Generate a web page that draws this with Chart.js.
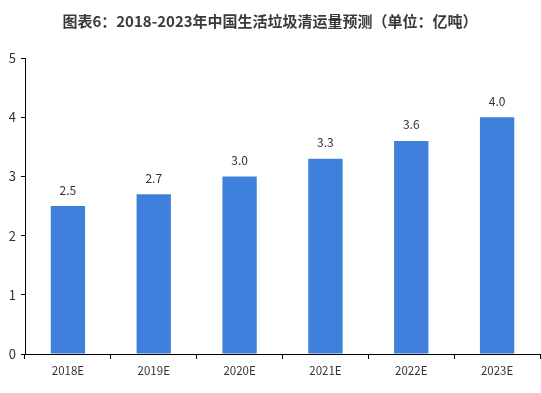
<!DOCTYPE html>
<html>
<head>
<meta charset="utf-8">
<script src="https://cdn.jsdelivr.net/npm/chart.js@4"></script>
<style>
  html, body { margin: 0; padding: 0; background: #fff; }
  #wrap { width: 541px; height: 393px; position: relative; }
</style>
</head>
<body>
<div id="wrap"><canvas id="c"></canvas></div>
<script>
// 2018-2023 household waste collection forecast (100 million tonnes)
const categories = ['2018E', '2019E', '2020E', '2021E', '2022E', '2023E'];
const values = [2.5, 2.7, 3.0, 3.3, 3.6, 4.0];
const yTicks = [0, 1, 2, 3, 4, 5];
const titleText = '图表6：2018-2023年中国生活垃圾清运量预测（单位：亿吨）';

const FONT = "'Noto Sans CJK SC', 'DejaVu Sans', sans-serif";
const BAR = '#3f80dc';
const TEXT = '#333333';

// value labels above each bar
const barLabels = {
    id: 'barLabels',
    afterDatasetsDraw(chart) {
        const { ctx } = chart;
        const meta = chart.getDatasetMeta(0);
        ctx.save();
        ctx.font = `12px ${FONT}`;
        ctx.fillStyle = TEXT;
        ctx.textAlign = 'center';
        ctx.textBaseline = 'bottom';
        meta.data.forEach((bar, i) => {
            ctx.fillText(values[i].toFixed(1), bar.x, bar.y - 10);
        });
        ctx.restore();
    }
};

new Chart(document.getElementById('c'), {
    type: 'bar',
    data: {
        labels: categories,
        datasets: [{
            data: values,
            backgroundColor: BAR,
            categoryPercentage: 1,
            barPercentage: 0.4
        }]
    },
    options: {
        responsive: true,
        maintainAspectRatio: false,
        animation: false,
        layout: { padding: { left: 0, right: 1, top: 0, bottom: 0 } },
        plugins: {
            legend: { display: false },
            tooltip: { enabled: false },
            title: {
                display: true,
                text: titleText,
                color: '#3a3a3a',
                font: { family: FONT, size: 15, weight: 'bold' },
                padding: { top: 12, bottom: 28 }
            }
        },
        scales: {
            x: {
                offset: true,
                grid: { display: true, drawOnChartArea: false, offset: true, color: '#000', tickLength: 5 },
                border: { color: '#000', width: 1 },
                ticks: { color: TEXT, font: { family: FONT, size: 11.5 }, padding: 5, maxRotation: 0 },
                afterFit: s => { s.height = 39; }
            },
            y: {
                min: 0,
                max: 5,
                afterBuildTicks: s => { s.ticks = yTicks.map(v => ({ value: v })); },
                grid: { display: true, drawOnChartArea: false, color: '#000', tickLength: 4 },
                border: { color: '#000', width: 1 },
                ticks: { color: TEXT, font: { family: FONT, size: 13 }, padding: 5 },
                afterFit: s => { s.width = 25; }
            }
        }
    },
    plugins: [barLabels]
});
</script>
</body>
</html>
